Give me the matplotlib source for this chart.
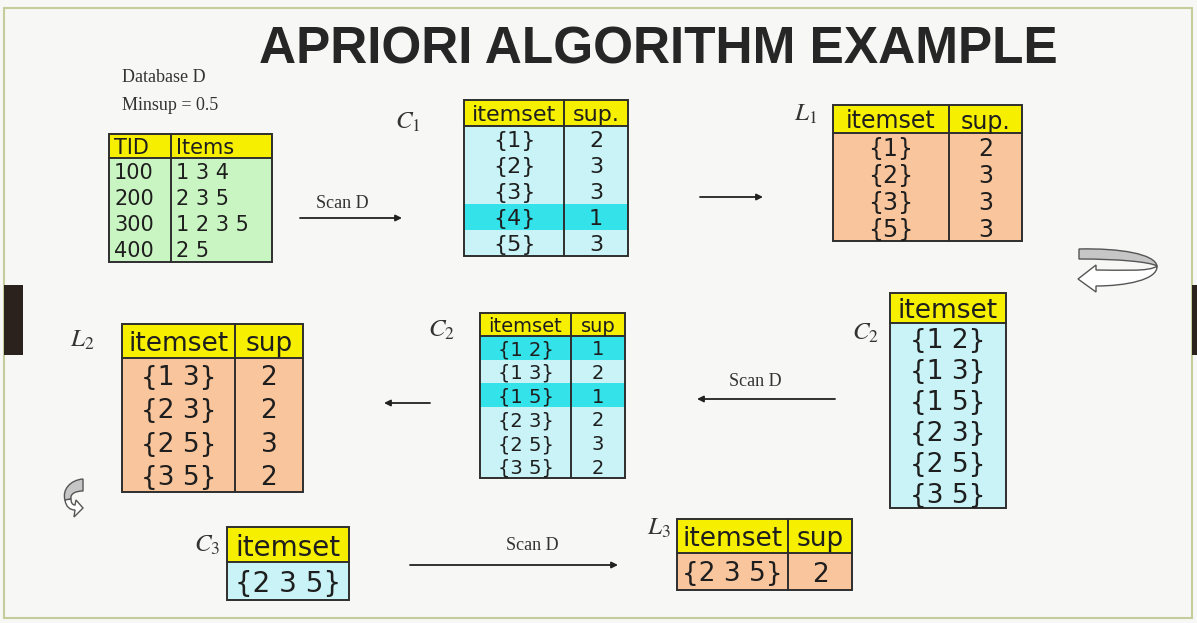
import numpy as np
import matplotlib
matplotlib.use("Agg")
import matplotlib.pyplot as plt
from matplotlib.patches import Rectangle, PathPatch
from matplotlib.path import Path

plt.rcParams['mathtext.fontset'] = 'stix'

# ---- data -------------------------------------------------------------
minsup = 0.5
db_tids = ['100', '200', '300', '400']
db_items = ['1 3 4', '2 3 5', '1 2 3 5', '2 5']

c1_itemsets = ['{1}', '{2}', '{3}', '{4}', '{5}']
c1_sup = [2, 3, 3, 1, 3]

l1_itemsets = ['{1}', '{2}', '{3}', '{5}']
l1_sup = [2, 3, 3, 3]

c2_itemsets = ['{1 2}', '{1 3}', '{1 5}', '{2 3}', '{2 5}', '{3 5}']
c2_sup = [1, 2, 1, 2, 3, 2]

l2_itemsets = ['{1 3}', '{2 3}', '{2 5}', '{3 5}']
l2_sup = [2, 2, 3, 2]

c3_itemsets = ['{2 3 5}']
l3_itemsets = ['{2 3 5}']
l3_sup = [2]

min_count = minsup * len(db_tids)

# ---- style ------------------------------------------------------------
YELLOW = '#f7ef00'
GREEN = '#c9f5c2'
CYAN = '#c9f3f6'
CYAN_HL = '#34e2ea'
PEACH = '#f8c59c'
EDGE = '#2e2e2e'
TXT = '#1e1e1e'
SANS = 'DejaVu Sans'
SERIF = 'Liberation Serif'


def draw_table(ax, x0, x1, splits, y0, yh, y1, headers, columns, fill, fs,
               hfs=None, hl=None, align='center', pad=5):
    hfs = hfs or fs
    n = len(columns[0])
    rh = (y1 - yh) / n
    ax.add_patch(Rectangle((x0, y0), x1 - x0, yh - y0, fc=YELLOW, ec='none'))
    ax.add_patch(Rectangle((x0, yh), x1 - x0, y1 - yh, fc=fill, ec='none'))
    if hl is not None:
        for i, flag in enumerate(hl):
            if flag:
                ax.add_patch(Rectangle((x0, yh + i * rh), x1 - x0, rh,
                                       fc=CYAN_HL, ec='none'))
    edges = [x0] + list(splits) + [x1]
    for j, h in enumerate(headers):
        if align == 'left':
            tx, ha = edges[j] + pad, 'left'
        else:
            tx, ha = (edges[j] + edges[j + 1]) / 2, 'center'
        ax.text(tx, (y0 + yh) / 2, h, ha=ha, va='center_baseline',
                fontsize=hfs, family=SANS, color=TXT)
        for i, v in enumerate(columns[j]):
            ax.text(tx, yh + (i + 0.5) * rh, str(v), ha=ha,
                    va='center_baseline', fontsize=fs, family=SANS, color=TXT)
    ax.add_patch(Rectangle((x0, y0), x1 - x0, y1 - y0, fc='none',
                           ec=EDGE, lw=1.4))
    ax.plot([x0, x1], [yh, yh], color=EDGE, lw=1.4)
    for s in splits:
        ax.plot([s, s], [y0, y1], color=EDGE, lw=1.4)


def label(ax, x, y, letter, idx):
    ax.text(x, y, f'${letter}_{{{idx}}}$', fontsize=18, ha='center',
            va='center', color='#333333')


def arrow(ax, x_from, x_to, y):
    ax.annotate('', xy=(x_to, y), xytext=(x_from, y),
                arrowprops=dict(arrowstyle='-|>', color='#222222', lw=1.3,
                                mutation_scale=9, shrinkA=0, shrinkB=0))


def curl(ax, band, head):
    for verts, fc in ((band, '#c6c6c6'), (head, 'white')):
        codes = [Path.MOVETO]
        pts = [verts[0][1]]
        for kind, *p in verts[1:]:
            if kind == 'C':
                codes += [Path.CURVE4] * 3
            else:
                codes += [Path.LINETO]
            pts += p
        codes.append(Path.CLOSEPOLY)
        pts.append(pts[0])
        ax.add_patch(PathPatch(Path(pts, codes), fc=fc, ec='#555555', lw=1))


# ---- figure -----------------------------------------------------------
fig = plt.figure(figsize=(11.97, 6.23), dpi=100)
fig.patch.set_facecolor('#f7f7f5')
ax = fig.add_axes([0, 0, 1, 1])
ax.set_xlim(0, 1197)
ax.set_ylim(623, 0)
ax.axis('off')

# slide frame and side tabs
ax.add_patch(Rectangle((4, 8), 1188, 610, fc='none', ec='#c6cd9c', lw=1.5))
ax.add_patch(Rectangle((4, 285), 19, 70, fc='#2b211d', ec='none'))
ax.add_patch(Rectangle((1192, 285), 6, 70, fc='#2b211d', ec='none'))

ax.text(658, 50, 'APRIORI ALGORITHM EXAMPLE', ha='center', va='center',
        fontsize=37, fontweight='bold', color='#262626',
        family='Liberation Sans')

ax.text(122, 78, 'Database D', fontsize=13, family=SERIF, color='#333333',
        va='center')
ax.text(122, 105, f'Minsup = {minsup}', fontsize=13, family=SERIF,
        color='#333333', va='center')

# database D
draw_table(ax, 109, 272, [171], 134, 158, 262, ['TID', 'Items'],
           [db_tids, db_items], GREEN, 15, align='left', pad=5)

# C1
label(ax, 408, 122, 'C', 1)
draw_table(ax, 464, 628, [564], 100, 126, 256, ['itemset', 'sup.'],
           [c1_itemsets, c1_sup], CYAN, 16,
           hl=[s < min_count for s in c1_sup])
ax.text(342, 204, 'Scan D', fontsize=13, family=SERIF, color='#333333',
        ha='center', va='center')
arrow(ax, 300, 402, 218)
arrow(ax, 700, 763, 197)

# L1
label(ax, 806, 114, 'L', 1)
draw_table(ax, 833, 1022, [949], 105, 133, 241, ['itemset', 'sup.'],
           [l1_itemsets, l1_sup], PEACH, 17)

curl(ax,
     [('M', (1079, 249)), ('C', (1120, 248), (1155, 254), (1157, 266)),
      ('C', (1150, 262), (1120, 259), (1079, 259))],
     [('M', (1157, 266)), ('C', (1150, 272), (1120, 270), (1096, 270)),
      ('L', (1096, 265)), ('L', (1078, 279)), ('L', (1096, 292)),
      ('L', (1096, 286)), ('C', (1125, 286), (1158, 280), (1157, 266))])

# C2 (candidates, no counts)
label(ax, 866, 333, 'C', 2)
draw_table(ax, 890, 1006, [], 293, 323, 508, ['itemset'], [c2_itemsets],
           CYAN, 19)
ax.text(755, 382, 'Scan D', fontsize=13, family=SERIF, color='#333333',
        ha='center', va='center')
arrow(ax, 835, 697, 399)

# C2 with counts
label(ax, 442, 330, 'C', 2)
draw_table(ax, 480, 625, [571], 313, 336, 478, ['itemset', 'sup'],
           [c2_itemsets, c2_sup], CYAN, 14,
           hl=[s < min_count for s in c2_sup])
arrow(ax, 430, 384, 403)

# L2
label(ax, 82, 340, 'L', 2)
draw_table(ax, 122, 303, [235], 324, 358, 492, ['itemset', 'sup'],
           [l2_itemsets, l2_sup], PEACH, 19)

curl(ax,
     [('M', (83, 479)), ('C', (70, 480), (62, 490), (65, 500)),
      ('L', (71, 499)), ('C', (70, 494), (75, 491), (83, 491))],
     [('M', (65, 500)), ('C', (66, 507), (70, 510), (75, 510)),
      ('L', (74, 517)), ('L', (83, 508)), ('L', (76, 500)),
      ('L', (75, 505)), ('C', (72, 505), (71, 502), (71, 499))])

# C3
label(ax, 207, 545, 'C', 3)
draw_table(ax, 227, 349, [], 527, 562, 600, ['itemset'], [c3_itemsets],
           CYAN, 20)
ax.text(532, 545, 'Scan D', fontsize=13, family=SERIF, color='#333333',
        ha='center', va='center')
arrow(ax, 410, 618, 565)

# L3
label(ax, 659, 528, 'L', 3)
draw_table(ax, 677, 852, [788], 519, 553, 590, ['itemset', 'sup'],
           [l3_itemsets, l3_sup], PEACH, 19)

fig.savefig('out.png', dpi=100, facecolor=fig.get_facecolor())
